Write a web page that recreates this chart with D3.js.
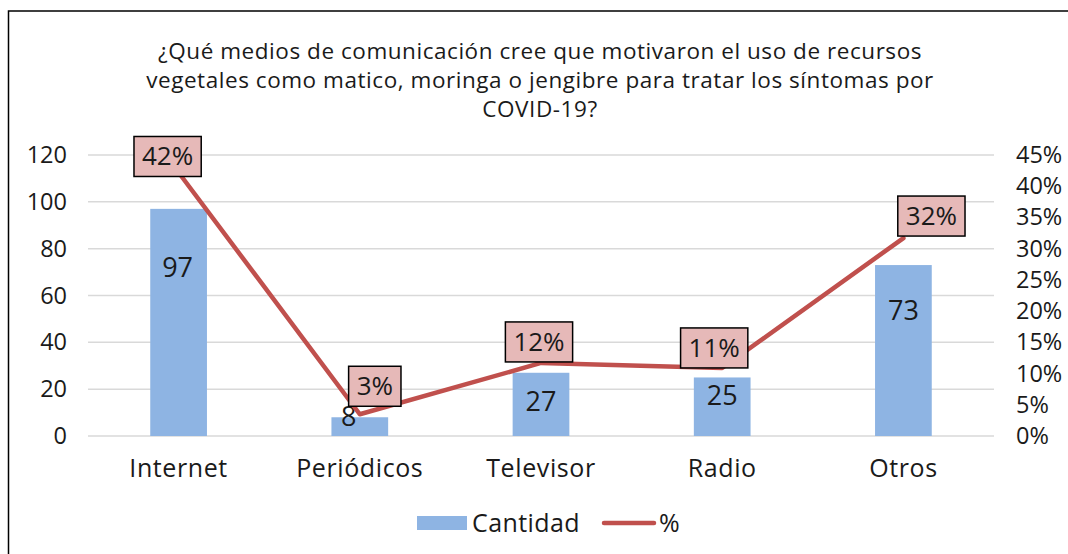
<!DOCTYPE html>
<html>
<head>
<meta charset="utf-8">
<script src="https://cdn.jsdelivr.net/npm/d3@7"></script>
<style>
  html, body { margin: 0; padding: 0; background: #fff; }
  svg { display: block; font-family: "Open Sans", sans-serif; }
</style>
</head>
<body>
<div id="chart"></div>
<script>
// ─── DATA ─────────────────────────────────────────────────────────────────────
const categories = ["Internet", "Periódicos", "Televisor", "Radio", "Otros"];
const cantidad = [97, 8, 27, 25, 73];
const porcentaje = [0.422, 0.0348, 0.117, 0.109, 0.317];
const leftTicks = [0, 20, 40, 60, 80, 100, 120];
const rightTicks = [0, 0.05, 0.10, 0.15, 0.20, 0.25, 0.30, 0.35, 0.40, 0.45];
const titleLines = [
  "¿Qué medios de comunicación cree que motivaron el uso de recursos",
  "vegetales como matico, moringa o jengibre para tratar los síntomas por",
  "COVID-19?"
];

// label nudges (layout only, px)
const barLabelShift = [[-1, 61], [-11, 2], [0, 31], [0, 20], [0, 48]];
const pctLabelShift = [[-11, -16], [15, -28], [-2, -21], [-8, -20], [28, -22]];

// ─── SETUP ────────────────────────────────────────────────────────────────────
const W = 1068, H = 554;
const plot = { left: 88, right: 994, top: 155, bottom: 436 };
const ink = "#1a1a1a";

const svg = d3.select("#chart").append("svg")
  .attr("width", W).attr("height", H);

// outer frame
svg.append("rect")
  .attr("x", 8.5).attr("y", 11)
  .attr("width", W + 10).attr("height", H + 10)
  .attr("fill", "none").attr("stroke", "#000").attr("stroke-width", 1.5);

// title
svg.append("text")
  .attr("text-anchor", "middle")
  .attr("font-size", 22.5)
  .attr("letter-spacing", 0.55)
  .attr("fill", ink)
  .selectAll("tspan")
  .data(titleLines)
  .join("tspan")
  .attr("x", 540)
  .attr("y", (d, i) => 58.5 + i * 29)
  .text(d => d);

// scales
const x = d3.scaleBand().domain(categories).range([plot.left, plot.right]).padding(0);
const barW = x.bandwidth() * 0.313;
const yL = d3.scaleLinear().domain([0, 120]).range([plot.bottom, plot.top]);
const yR = d3.scaleLinear().domain([0, 0.45]).range([plot.bottom, plot.top]);
const cx = d => x(d) + x.bandwidth() / 2;

// gridlines
svg.append("g")
  .selectAll("line")
  .data(leftTicks)
  .join("line")
  .attr("x1", plot.left).attr("x2", plot.right)
  .attr("y1", d => yL(d)).attr("y2", d => yL(d))
  .attr("stroke", "#d9d9d9").attr("stroke-width", 1.5);

function styleAxisText(sel, size, spacing) {
  sel.select(".domain").remove();
  sel.selectAll("text")
    .attr("font-family", "'Open Sans', sans-serif")
    .attr("font-size", size)
    .attr("letter-spacing", spacing)
    .attr("fill", ink);
}

// left axis
const axL = svg.append("g")
  .attr("transform", `translate(${plot.left - 21},0)`)
  .call(d3.axisLeft(yL).tickValues(leftTicks).tickSize(0).tickPadding(0));
styleAxisText(axL, 23.5, 0);

// right axis
const axR = svg.append("g")
  .attr("transform", `translate(${plot.right + 22},0)`)
  .call(d3.axisRight(yR).tickValues(rightTicks).tickFormat(d3.format(".0%")).tickSize(0).tickPadding(0));
styleAxisText(axR, 23.5, 0);

// category axis
const axB = svg.append("g")
  .attr("transform", `translate(0,${plot.bottom})`)
  .call(d3.axisBottom(x).tickSize(0).tickPadding(23));
styleAxisText(axB, 25, 0.6);

// bars
svg.append("g")
  .selectAll("rect")
  .data(categories)
  .join("rect")
  .attr("x", d => cx(d) - barW / 2)
  .attr("width", barW)
  .attr("y", (d, i) => yL(cantidad[i]))
  .attr("height", (d, i) => plot.bottom - yL(cantidad[i]))
  .attr("fill", "#8eb4e3");

// bar value labels
svg.append("g")
  .selectAll("text")
  .data(categories)
  .join("text")
  .attr("x", (d, i) => cx(d) + barLabelShift[i][0])
  .attr("y", (d, i) => yL(cantidad[i]) + barLabelShift[i][1])
  .attr("text-anchor", "middle")
  .attr("dominant-baseline", "middle")
  .attr("font-size", 27).attr("fill", ink)
  .text((d, i) => cantidad[i]);

// percentage line
const line = d3.line()
  .x(d => cx(d.cat))
  .y(d => yR(d.val));
const pts = categories.map((c, i) => ({ cat: c, val: porcentaje[i] }));

svg.append("path")
  .datum(pts)
  .attr("d", line)
  .attr("fill", "none")
  .attr("stroke", "#c0504d")
  .attr("stroke-width", 4.5)
  .attr("stroke-linejoin", "round")
  .attr("stroke-linecap", "round");

// percentage labels (boxed)
const pctFmt = d3.format(".0%");
const pctG = svg.append("g")
  .selectAll("g")
  .data(pts)
  .join("g")
  .attr("transform", (d, i) =>
    `translate(${cx(d.cat) + pctLabelShift[i][0]},${yR(d.val) + pctLabelShift[i][1]})`);

pctG.each(function (d) {
  const g = d3.select(this);
  const t = g.append("text")
    .attr("text-anchor", "middle")
    .attr("y", 9)
    .attr("font-size", 26).attr("fill", ink)
    .text(pctFmt(d.val));
  const w = t.node().getComputedTextLength() + 16;
  g.insert("rect", "text")
    .attr("x", -w / 2).attr("y", -20)
    .attr("width", w).attr("height", 40)
    .attr("fill", "#e6b9b8")
    .attr("stroke", "#000").attr("stroke-width", 1.5);
});

// legend
const legend = svg.append("g").attr("transform", "translate(417,523)");
legend.append("rect")
  .attr("x", 0).attr("y", -7).attr("width", 50).attr("height", 14)
  .attr("fill", "#8eb4e3");
legend.append("text")
  .attr("x", 55).attr("y", 8.5)
  .attr("font-size", 25).attr("letter-spacing", 0.4).attr("fill", ink)
  .text("Cantidad");
legend.append("line")
  .attr("x1", 187).attr("x2", 237).attr("y1", 0).attr("y2", 0)
  .attr("stroke", "#c0504d").attr("stroke-width", 4.5)
  .attr("stroke-linecap", "round");
legend.append("text")
  .attr("x", 242).attr("y", 8.5)
  .attr("font-size", 25).attr("fill", ink)
  .text("%");
</script>
</body>
</html>
